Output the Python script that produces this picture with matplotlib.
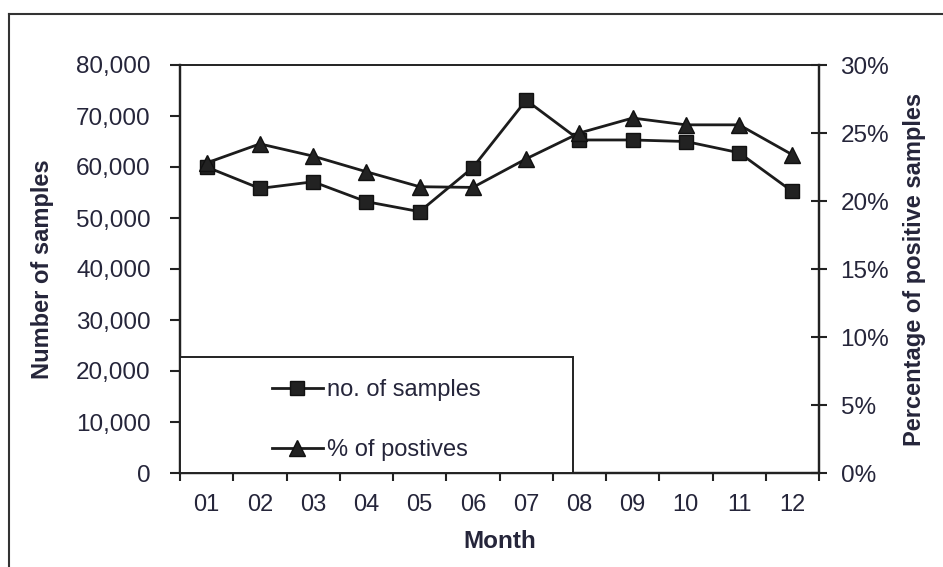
import matplotlib
matplotlib.use("Agg")
import matplotlib.pyplot as plt
from matplotlib.patches import Rectangle
from matplotlib.lines import Line2D
from matplotlib.ticker import FuncFormatter, MultipleLocator, FixedLocator

plt.rcParams['font.family'] = ['Liberation Sans', 'DejaVu Sans']

months = ["01", "02", "03", "04", "05", "06", "07", "08", "09", "10", "11", "12"]
num_samples = [60000, 55800, 57100, 53200, 51250, 59900, 73100, 65300, 65300, 65000, 62800, 55200]
pct_positive = [22.8, 24.2, 23.3, 22.15, 21.05, 21.0, 23.1, 25.0, 26.1, 25.6, 25.6, 23.4]

text_col = "#25253a"
line_col = "#1c1c1c"

W, H = 943, 567
fig = plt.figure(figsize=(W / 100, H / 100), dpi=100)
fig.patch.set_facecolor("white")

# outer frame lines (top and left)
fig.add_artist(Line2D([9 / W, 1.0], [1 - 14 / H, 1 - 14 / H], color="#333333", lw=1.5))
fig.add_artist(Line2D([9 / W, 9 / W], [0.0, 1 - 14 / H], color="#333333", lw=1.5))

L, R, T, B = 180, 819, 65, 473
ax = fig.add_axes([L / W, 1 - B / H, (R - L) / W, (B - T) / H])
ax2 = ax.twinx()

x = list(range(len(months)))
ax.plot(x, num_samples, color=line_col, lw=2.0, marker="s", ms=10.5,
        mfc="#222222", mec="#111111", mew=1.0, zorder=3)
ax2.plot(x, pct_positive, color=line_col, lw=2.0, marker="^", ms=11.5,
         mfc="#222222", mec="#111111", mew=1.0, zorder=3)

ax.set_xlim(-0.5, len(months) - 0.5)
ax.set_ylim(0, 80000)
ax2.set_ylim(0, 30)

ax.yaxis.set_major_locator(MultipleLocator(10000))
ax.yaxis.set_major_formatter(FuncFormatter(lambda v, p: f"{int(v):,}"))
ax2.yaxis.set_major_locator(MultipleLocator(5))
ax2.yaxis.set_major_formatter(FuncFormatter(lambda v, p: f"{int(v)}%"))

ax.set_xticks(x)
ax.set_xticklabels(months)
ax.xaxis.set_minor_locator(FixedLocator([i - 0.5 for i in range(len(months) + 1)]))
ax.tick_params(axis="x", which="major", length=0, pad=15, labelsize=17, labelcolor=text_col)
ax.tick_params(axis="x", which="minor", length=6, width=1.5, direction="out", color="#222222")
ax.tick_params(axis="y", length=7, width=1.5, direction="out", pad=14,
               labelsize=17.5, labelcolor=text_col, color="#222222")
ax2.tick_params(axis="y", length=11, width=1.5, direction="inout", pad=10,
                labelsize=17.5, labelcolor=text_col, color="#222222")

for a in (ax, ax2):
    for s in a.spines.values():
        s.set_linewidth(1.6)
        s.set_color("#222222")
    a.spines["top"].set_linewidth(1.2)

ax.set_xlabel("Month", fontsize=17.5, fontweight="bold", color=text_col, labelpad=10)
ax.set_ylabel("Number of samples", fontsize=17, fontweight="bold", color=text_col, labelpad=16)
ax2.set_ylabel("Percentage of positive samples", fontsize=17, fontweight="bold",
               color=text_col, labelpad=10)

# legend box in the lower-left corner of the plot area
lx1 = (573 - L) / (R - L)
ly1 = (B - 357) / (B - T)
ax2.add_patch(Rectangle((0, 0), lx1, ly1, transform=ax2.transAxes, facecolor="white",
                        edgecolor="#222222", lw=1.4, zorder=4, clip_on=False))
h1 = Line2D([], [], color=line_col, lw=2.0, marker="s", ms=10, mfc="#222222", mec="#111111")
h2 = Line2D([], [], color=line_col, lw=2.0, marker="^", ms=11, mfc="#222222", mec="#111111")
leg = ax2.legend([h1, h2], ["no. of samples", "% of postives"], loc="center left",
                 bbox_to_anchor=((272 - L) / (R - L), (B - 420) / (B - T)),
                 frameon=False, fontsize=17, handlelength=2.15, handletextpad=0.2,
                 labelspacing=1.6, borderpad=0, borderaxespad=0)
leg.set_zorder(5)
for t in leg.get_texts():
    t.set_color(text_col)

fig.savefig("out.png", dpi=100)
